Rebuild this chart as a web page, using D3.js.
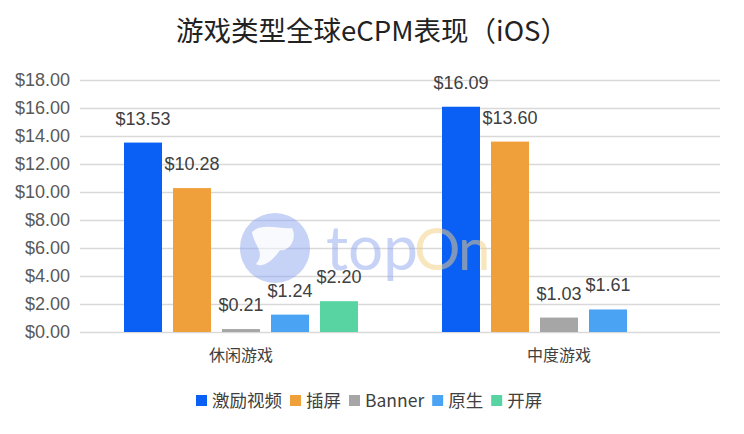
<!DOCTYPE html>
<html><head><meta charset="utf-8">
<script src="https://cdn.jsdelivr.net/npm/d3@7"></script>
<style>body{margin:0;background:#fff;} svg{display:block;font-family:"Noto Sans CJK SC","Noto Sans",sans-serif;}</style>
</head><body><svg id="c" width="744" height="434"></svg>
<script>
const title = "游戏类型全球eCPM表现（iOS）";
const categories = ["休闲游戏", "中度游戏"];
const seriesNames = ["激励视频", "插屏", "Banner", "原生", "开屏"];
const seriesColors = ["#0a5ff5", "#f0a03a", "#a6a6a6", "#4aa3f3", "#58d4a2"];
const v_jili = [13.53, 16.09];
const v_chaping = [10.28, 13.60];
const v_banner = [0.21, 1.03];
const v_yuansheng = [1.24, 1.61];
const v_kaiping = [2.20, null];
const yTicks = [0, 2, 4, 6, 8, 10, 12, 14, 16, 18];

const seriesValues = [v_jili, v_chaping, v_banner, v_yuansheng, v_kaiping];
const svg = d3.select("#c");
const gridL = 80, gridR = 720;
const x0 = d3.scaleBand().domain(categories).range([82, 718]);
const x1 = d3.scaleBand().domain(seriesNames).range([0, x0.bandwidth()]).paddingInner(0.2245).paddingOuter(0.857);
const y = d3.scaleLinear().domain([0, 18]).range([332, 80]);

svg.append("text").attr("x", 372).attr("y", 41).attr("text-anchor", "middle")
  .attr("font-size", 27.5).attr("fill", "#222").text(title);

const ya = svg.append("g").attr("transform", `translate(${gridL},0)`)
  .call(d3.axisLeft(y).tickValues(yTicks).tickSize(-(gridR - gridL)).tickPadding(10).tickFormat(d => "$" + d.toFixed(2)));
ya.select(".domain").remove();
ya.selectAll(".tick line").attr("stroke", "#d9d9d9").attr("stroke-width", 1.3);
ya.selectAll(".tick text").attr("font-size", 18).attr("fill", "#595959").attr("font-family", "Liberation Sans, Arial, sans-serif");

seriesNames.forEach((s, si) => {
  const g = svg.append("g");
  categories.forEach((c, ci) => {
    const v = seriesValues[si][ci];
    if (v == null) return;
    const bx = x0(c) + x1(s);
    g.append("rect").attr("x", bx).attr("y", y(v)).attr("width", x1.bandwidth())
      .attr("height", y(0) - y(v)).attr("fill", seriesColors[si]);
    g.append("text").attr("x", bx + x1.bandwidth() / 2).attr("y", y(v) - 18)
      .attr("text-anchor", "middle").attr("font-size", 18).attr("fill", "#404040")
      .attr("font-family", "Liberation Sans, Arial, sans-serif").text("$" + v.toFixed(2));
  });
});

// watermark (on top, translucent)
const wm = svg.append("g").attr("opacity", 0.5);
wm.append("circle").attr("cx", 275).attr("cy", 248).attr("r", 35).attr("fill", "#8ea6ef");
wm.append("path").attr("d", "M252,232 C262,222 282,230 292,228 C298,240 288,252 280,250 C272,262 262,268 256,264 C266,252 254,246 252,232 Z").attr("fill", "#fff").attr("opacity", 0.9);
wm.append("text").attr("x", 326).attr("y", 270).attr("font-size", 62).attr("font-weight", 400).attr("fill", "#8ea6ef")
  .attr("font-family", "Lato, sans-serif").text("top");
wm.append("text").attr("x", 414).attr("y", 270).attr("font-size", 58).attr("font-weight", 400).attr("fill", "#f3cf80")
  .attr("font-family", "Lato, sans-serif").text("O");
wm.append("text").attr("x", 458).attr("y", 270).attr("font-size", 58).attr("font-weight", 400).attr("fill", "#f3cf80")
  .attr("font-family", "Lato, sans-serif").text("n");

categories.forEach(c => {
  svg.append("text").attr("x", x0(c) + x0.bandwidth() / 2).attr("y", 361)
    .attr("text-anchor", "middle").attr("font-size", 16).attr("fill", "#404040").text(c);
});

// legend
const leg = svg.append("g");
let lx = 196;
seriesNames.forEach((s, i) => {
  leg.append("rect").attr("x", lx).attr("y", 395).attr("width", 11).attr("height", 11).attr("fill", seriesColors[i]);
  const t = leg.append("text").attr("x", lx + 16).attr("y", 407).attr("font-size", 17.5).attr("fill", "#404040").text(s);
  lx += 16 + t.node().getComputedTextLength() + 8;
});
</script></body></html>
